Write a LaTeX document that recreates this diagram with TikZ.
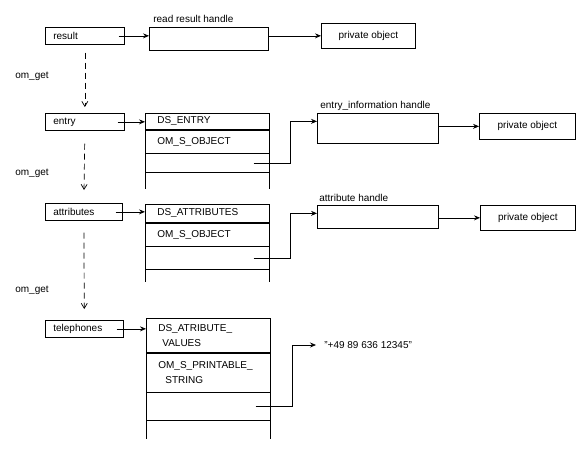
\documentclass[tikz,border=0pt]{standalone}
\usepackage{fontspec}
\setmainfont{Liberation Sans}
\usetikzlibrary{arrows.meta}

\begin{document}
\begin{tikzpicture}[x=1pt,y=-1pt,line width=0.7pt,
    font=\fontsize{10}{15}\selectfont,
    >={Stealth[length=6pt,width=5pt,inset=2pt]},
    varbox/.style={draw,anchor=north west,inner xsep=8pt,inner ysep=0pt,minimum height=17pt,text width=63pt,align=left},
    cell/.style={draw,anchor=north west,inner xsep=12pt,inner ysep=0pt,text width=100pt,align=left},
    handle/.style={draw,anchor=north west,minimum width=121pt},
    obj/.style={draw,anchor=north west,minimum width=95pt,minimum height=25pt},
    lbl/.style={anchor=base west,inner sep=0pt},
    getarrow/.style={->,>={Straight Barb[length=5pt,width=6pt]},dash pattern=on 6pt off 4pt}]
    \useasboundingbox (0,0) rectangle (577,450);

    % read result
    \node[varbox] (result) at (45,27) {result};
    \node[handle,minimum width=119pt,minimum height=23pt] (rrh) at (149,27) {};
    \node[lbl] (rrhlbl) at ([xshift=4pt,yshift=5pt]rrh.north west) {read result handle};
    \node[obj,minimum width=94pt] (po1) at (321,23) {private object};
    \draw[->] ([xshift=-6pt]result.east) -- (result.east -| rrh.west);
    \draw[->] (rrh.east |- po1.west) -- (po1.west);

    % entry
    \node[varbox] (entry) at (45,113) {entry};
    \node[cell,minimum height=16pt] (e1) at (145,113) {DS\_ENTRY};
    \node[cell,minimum height=23pt] (e2) at (e1.south west) {OM\_S\_OBJECT};
    \node[cell,minimum height=19pt] (e3) at (e2.south west) {};
    \draw (e3.south west) -- ++(0,16);
    \draw (e3.south east) -- ++(0,16);
    \node[handle,minimum height=30pt] (eih) at (317,113) {};
    \node[lbl] (eihlbl) at ([xshift=3pt,yshift=5pt]eih.north west) {entry\_information handle};
    \node[obj,minimum width=96pt,minimum height=26pt] (po2) at (479,113) {private object};
    \draw[->] ([xshift=-7pt]entry.east) -- (entry.east -| e1.west);
    \draw[->] ([xshift=-16pt]e3.east) -- ++(37,0) |- (eih.west |- e1.east);
    \draw[->] (eih.east |- po2.west) -- (po2.west);

    % attributes
    \node[varbox,text width=61pt] (attributes) at (45,203) {attributes};
    \node[cell,minimum height=18pt] (a1) at (145,204) {DS\_ATTRIBUTES};
    \node[cell,minimum height=23pt] (a2) at (a1.south west) {OM\_S\_OBJECT};
    \node[cell,minimum height=23pt] (a3) at (a2.south west) {};
    \draw (a3.south west) -- ++(0,12);
    \draw (a3.south east) -- ++(0,12);
    \node[handle,minimum height=23pt] (ah) at (317,205) {};
    \node[lbl] (ahlbl) at ([xshift=2pt,yshift=4pt]ah.north west) {attribute handle};
    \node[obj] (po3) at (480,205) {private object};
    \draw[->] ([xshift=-7pt]attributes.east) -- (attributes.east -| a1.west);
    \draw[->] ([xshift=-16pt]a3.east) -- ++(37,0) |- (ah.west |- a1.east);
    \draw[->] (ah.east |- po3.west) -- (po3.west);

    % telephones
    \node[varbox,text width=62pt] (telephones) at (45,320) {telephones};
    \node[cell,minimum height=34pt] (t1) at (146,318) {DS\_ATRIBUTE\_\\\hspace*{4pt}VALUES};
    \node[cell,minimum height=39pt] (t2) at (t1.south west) {OM\_S\_PRINTABLE\_\\\hspace*{7pt}STRING};
    \node[cell,minimum height=28pt] (t3) at (t2.south west) {};
    \draw (t3.south west) -- ++(0,18);
    \draw (t3.south east) -- ++(0,18);
    \node[anchor=west,inner sep=0pt] (phone) at (324,345) {"+49 89 636 12345"};
    \draw[->] ([xshift=-7pt]telephones.east) -- (telephones.east -| t1.west);
    \draw[->] ([xshift=-15pt]t3.east) -- ++(37,0) |- ([xshift=-8pt]phone.west);

    % om_get steps
    \draw[getarrow,shorten <=8pt,shorten >=6pt] (result.south) -- (entry.north);
    \draw[getarrow,shorten <=13pt,shorten >=13pt] (entry.south) -- (attributes.north);
    \draw[getarrow,shorten <=12pt,shorten >=11pt] (attributes.south) -- (telephones.north);
    \node[lbl] (get1) at (15,78) {om\_get};
    \node[lbl] (get2) at (15,175) {om\_get};
    \node[lbl] (get3) at (15,292) {om\_get};

\end{tikzpicture}
\end{document}
